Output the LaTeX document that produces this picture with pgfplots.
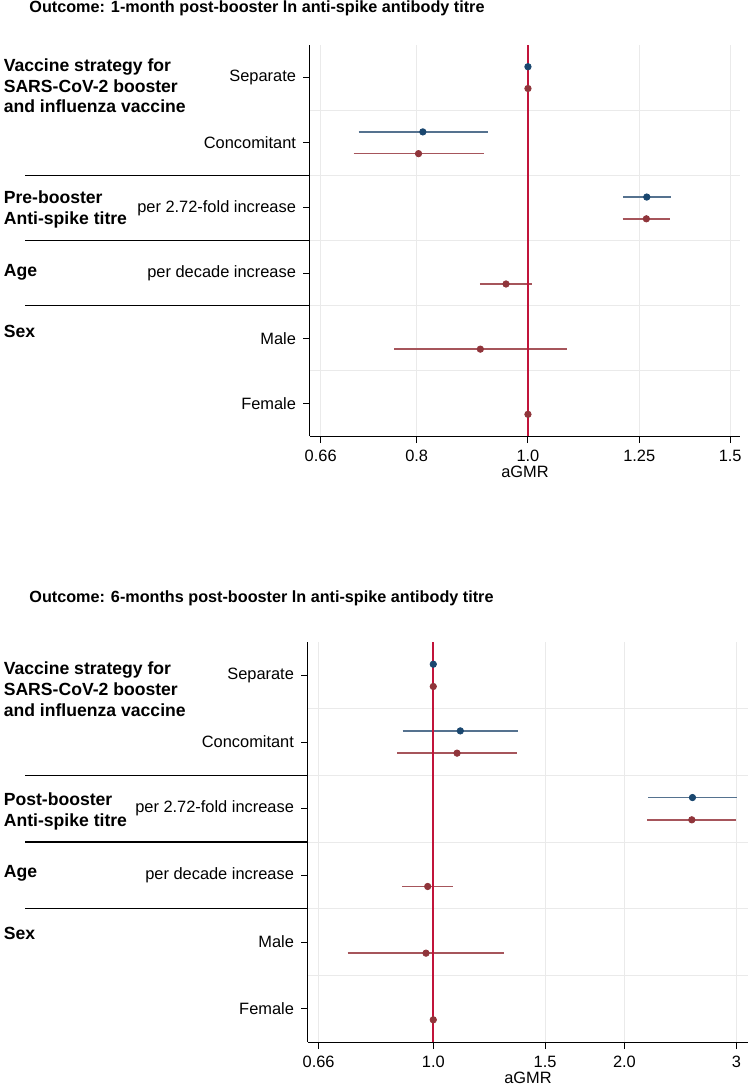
\documentclass[border=0pt]{standalone}
\usepackage{pgfplots}
\pgfplotsset{compat=1.18}
\usepackage{fontspec}
\setmainfont{Liberation Sans}
\definecolor{cnavy}{HTML}{1A476F}
\definecolor{cmaroon}{HTML}{90353B}
\definecolor{cnavyci}{HTML}{55728F}
\definecolor{cmaroonci}{HTML}{A6555B}
\definecolor{cref}{HTML}{C1143A}
\definecolor{cgrid}{HTML}{EAEAEA}
\newcommand{\ci}[4]{\addplot[#1, line width=0.7pt, forget plot] coordinates {(#2,#4) (#3,#4)};}
\pgfplotsset{myforest/.style={
  scale only axis,
  ymin=0.5, ymax=6.5,
  axis x line*=bottom, axis y line*=left,
  ytick={1,2,3,4,5,6},
  yticklabels={Female,Male,per decade increase,per 2.72-fold increase,Concomitant,Separate},
  minor ytick={1.5,2.5,3.5,4.5,5.5},
  yminorgrids=true, xmajorgrids=true, ymajorgrids=false,
  grid style={cgrid, line width=0.5pt},
  minor grid style={cgrid, line width=0.5pt},
  minor tick length=0pt,
  tick align=outside, major tick length=3.5pt,
  tick style={black, line width=0.5pt},
  axis line style={black, line width=0.5pt},
  ticklabel style={font=\fontsize{8.2}{9.8}\selectfont},
  xlabel={aGMR}, xlabel style={font=\fontsize{8.2}{9.8}\selectfont, yshift=4.5pt},
  clip=false,
}}
\begin{document}
\begin{tikzpicture}
% ---------- top panel ----------
\begin{axis}[xmode=log, myforest, at={(155pt,-218pt)}, anchor=south west,
  width=215pt, height=195.5pt,
  xmin=0.646, xmax=1.53,
  xtick={0.66,0.8,1,1.25,1.5}, xticklabels={0.66,0.8,1.0,1.25,1.5}]
\ci{cnavyci}{0.712}{0.923}{5.167}
\ci{cnavyci}{1.210}{1.332}{4.167}
\ci{cmaroonci}{0.705}{0.916}{4.833}
\ci{cmaroonci}{1.209}{1.330}{3.833}
\ci{cmaroonci}{0.908}{1.009}{2.833}
\ci{cmaroonci}{0.765}{1.081}{1.833}
\addplot[cref, line width=0.9pt, forget plot] coordinates {(1,0.5) (1,6.5)};
\addplot[only marks, mark=*, mark size=1.6pt, cnavy] coordinates {(1,6.167) (0.810,5.167) (1.269,4.167)};
\addplot[only marks, mark=*, mark size=1.6pt, cmaroon] coordinates {(1,5.833) (0.803,4.833) (1.268,3.833) (0.957,2.833) (0.909,1.833) (1,0.833)};
\draw[black, line width=0.6pt] (rel axis cs:0,0.6667) -- ++(-142.5pt,0pt);
\draw[black, line width=0.6pt] (rel axis cs:0,0.5) -- ++(-142.5pt,0pt);
\draw[black, line width=0.6pt] (rel axis cs:0,0.3333) -- ++(-142.5pt,0pt);
\end{axis}
% ---------- bottom panel ----------
\begin{axis}[xmode=log, myforest, at={(154pt,-521pt)}, anchor=south west,
  width=220pt, height=200pt,
  xmin=0.635, xmax=3.13,
  xtick={0.66,1,1.5,2,3}, xticklabels={0.66,1.0,1.5,2.0,3}]
\ci{cnavyci}{0.895}{1.358}{5.167}
\ci{cnavyci}{2.180}{3.005}{4.167}
\ci{cmaroonci}{0.877}{1.356}{4.833}
\ci{cmaroonci}{2.171}{3.000}{3.833}
\ci{cmaroonci}{0.893}{1.075}{2.833}
\ci{cmaroonci}{0.733}{1.293}{1.833}
\addplot[cref, line width=0.9pt, forget plot] coordinates {(1,0.5) (1,6.5)};
\addplot[only marks, mark=*, mark size=1.6pt, cnavy] coordinates {(1,6.167) (1.103,5.167) (2.559,4.167)};
\addplot[only marks, mark=*, mark size=1.6pt, cmaroon] coordinates {(1,5.833) (1.090,4.833) (2.553,3.833) (0.980,2.833) (0.974,1.833) (1,0.833)};
\draw[black, line width=0.6pt] (rel axis cs:0,0.6667) -- ++(-141.5pt,0pt);
\draw[black, line width=0.6pt] (rel axis cs:0,0.5) -- ++(-141.5pt,0pt);
\draw[black, line width=0.6pt] (rel axis cs:0,0.3333) -- ++(-141.5pt,0pt);
\end{axis}
% ---------- titles ----------
\tikzset{ttl/.style={anchor=base west, inner sep=0pt, font=\bfseries\fontsize{8.1}{9.7}\selectfont},
         grp/.style={anchor=base west, inner sep=0pt, font=\bfseries\fontsize{8.8}{10.5}\selectfont}}
\node[ttl] at (14.5pt,-6pt) {Outcome: 1-month post-booster ln anti-spike antibody titre};
\node[ttl] at (14.5pt,-301pt) {Outcome: 6-months post-booster ln anti-spike antibody titre};
% group labels top
\node[grp] at (1.7pt,-35.85pt) {Vaccine strategy for};
\node[grp] at (1.7pt,-46.1pt) {SARS-CoV-2 booster};
\node[grp] at (1.7pt,-56.35pt) {and influenza vaccine};
\node[grp] at (1.7pt,-101.7pt) {Pre-booster};
\node[grp] at (1.7pt,-112pt) {Anti-spike titre};
\node[grp] at (1.7pt,-138.3pt) {Age};
\node[grp] at (1.7pt,-168.7pt) {Sex};
% group labels bottom
\node[grp] at (1.7pt,-337pt) {Vaccine strategy for};
\node[grp] at (1.7pt,-347.5pt) {SARS-CoV-2 booster};
\node[grp] at (1.7pt,-358pt) {and influenza vaccine};
\node[grp] at (1.7pt,-402.8pt) {Post-booster};
\node[grp] at (1.7pt,-413.3pt) {Anti-spike titre};
\node[grp] at (1.7pt,-438.8pt) {Age};
\node[grp] at (1.7pt,-469.5pt) {Sex};
\pgfresetboundingbox
\useasboundingbox (0,0) rectangle (374pt,-542pt);
\end{tikzpicture}
\end{document}
